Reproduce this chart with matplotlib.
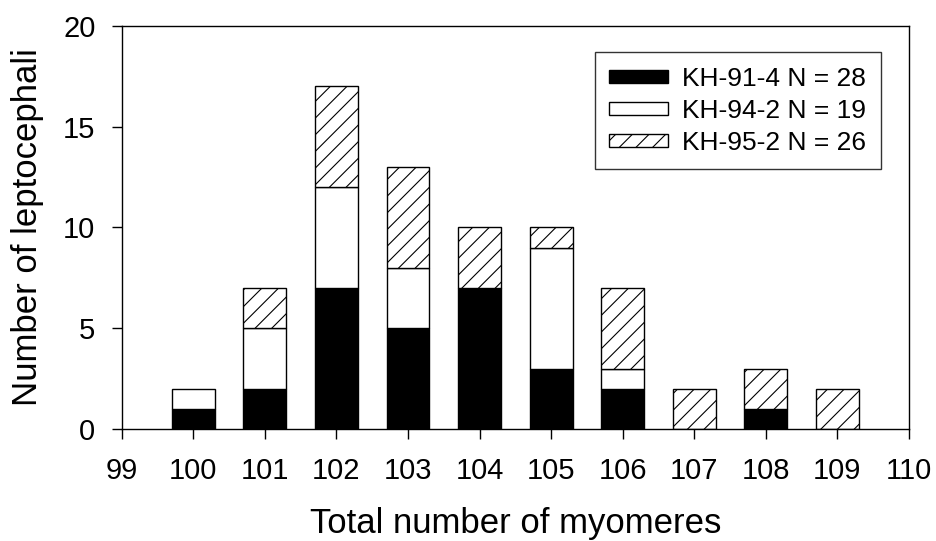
import matplotlib.pyplot as plt
import numpy as np

plt.rcParams['font.family'] = ['Liberation Sans', 'DejaVu Sans']
plt.rcParams['hatch.linewidth'] = 0.8

myomeres = [100, 101, 102, 103, 104, 105, 106, 107, 108, 109]
kh91 = [1, 2, 7, 5, 7, 3, 2, 0, 1, 0]
kh94 = [1, 3, 5, 3, 0, 6, 1, 0, 0, 0]
kh95 = [0, 2, 5, 5, 3, 1, 4, 2, 2, 2]
labels = ["KH-91-4 N = 28", "KH-94-2 N = 19", "KH-95-2 N = 26"]

x = np.array(myomeres)
b1 = np.array(kh91)
b2 = np.array(kh94)
b3 = np.array(kh95)

fig = plt.figure(figsize=(9.37, 5.41), dpi=100)
ax = fig.add_axes([0.130, 0.207, 0.840, 0.745])

w = 0.6
ax.bar(x, b1, w, color="black", edgecolor="black", lw=1, label=labels[0])
m2 = b2 > 0
ax.bar(x[m2], b2[m2], w, bottom=b1[m2], color="white", edgecolor="black", lw=1, label=labels[1])
m3 = b3 > 0
ax.bar(x[m3], b3[m3], w, bottom=(b1 + b2)[m3], color="white", edgecolor="black", lw=1,
       hatch="//", label=labels[2])

ax.set_xlim(99, 110)
ax.set_ylim(0, 20)
ax.set_xticks(range(99, 111))
ax.set_yticks([0, 5, 10, 15, 20])
ax.tick_params(direction="out", length=7, width=1, labelsize=21)
ax.tick_params(axis="x", pad=13)
ax.tick_params(axis="y", pad=12)
for s in ax.spines.values():
    s.set_linewidth(1)

ax.set_xlabel("Total number of myomeres", fontsize=25, labelpad=16)
ax.set_ylabel("Number of leptocephali", fontsize=25, labelpad=14)

leg = ax.legend(loc="upper right", bbox_to_anchor=(0.964, 0.935), borderaxespad=0,
                fontsize=19, frameon=True, fancybox=False, edgecolor="black",
                handlelength=2.2, handleheight=0.38, borderpad=0.55, labelspacing=0.3,
                handletextpad=0.55)
leg.get_frame().set_linewidth(1)

fig.savefig("out.png", dpi=100)
